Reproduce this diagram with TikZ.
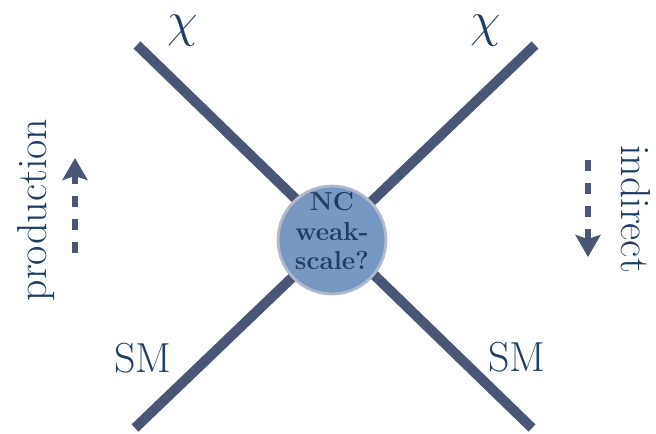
\documentclass[tikz,border=0pt]{standalone}
\usepackage{xcolor}
\usepackage{tikz}
\usetikzlibrary{arrows.meta, positioning}

\definecolor{legcol}{RGB}{74,86,118}
\definecolor{blobfill}{RGB}{120,152,196}
\definecolor{blobring}{RGB}{176,186,202}
\definecolor{txtcol}{RGB}{30,62,100}

\begin{document}
\begin{tikzpicture}[x=0.5pt,y=-0.5pt,
  leg/.style={line width=5pt, color=legcol},
  flow/.style={line width=3pt, color=legcol, dash pattern=on 5.5pt off 6pt,
    -{Stealth[length=11pt,width=12.5pt,inset=2pt]}},
  lbl/.style={text=txtcol, font=\fontsize{21}{25}\selectfont, inner sep=0pt},
  blob/.style={circle, fill=blobfill, draw=blobring, line width=1.4pt, minimum size=54pt, inner sep=0pt},
  blobtext/.style={text=txtcol, align=center, inner sep=0pt,
    font=\bfseries\fontsize{13}{14.5}\selectfont}]
  % frame
  \useasboundingbox (0,0) rectangle (656,433);

  % leg ends
  \coordinate (chiL) at (137,45);
  \coordinate (chiR) at (535,45);
  \coordinate (smL) at (135,428);
  \coordinate (smR) at (532,428);

  % the two legs
  \draw[leg] (chiL) -- (smR);
  \draw[leg] (chiR) -- (smL);

  % vertex
  \node[blob] (vertex) at (332,240) {};
  \node[blobtext] (vertextxt) at ([yshift=4.5pt]vertex.center) {NC\\weak-\\scale?};

  % particle labels
  \node[lbl, font=\fontsize{24}{28}\selectfont] (chiLlbl) at (183,31) {$\chi$};
  \node[lbl, font=\fontsize{24}{28}\selectfont] (chiRlbl) at (486,31) {$\chi$};
  \node[lbl] (smLlbl) at (143,358) {SM};
  \node[lbl] (smRlbl) at (517,357) {SM};

  % channel labels
  \node[lbl, rotate=90] (prod) at (36,210) {production};
  \node[lbl, rotate=-90] (indir) at (636,209) {indirect};

  % channel arrows
  \coordinate (prodA) at (75,253);
  \coordinate (prodB) at (75,158);
  \coordinate (indirA) at (588,160);
  \coordinate (indirB) at (588,257);
  \draw[flow] (prodA) -- (prodB);
  \draw[flow] (indirA) -- (indirB);

\end{tikzpicture}
\end{document}
